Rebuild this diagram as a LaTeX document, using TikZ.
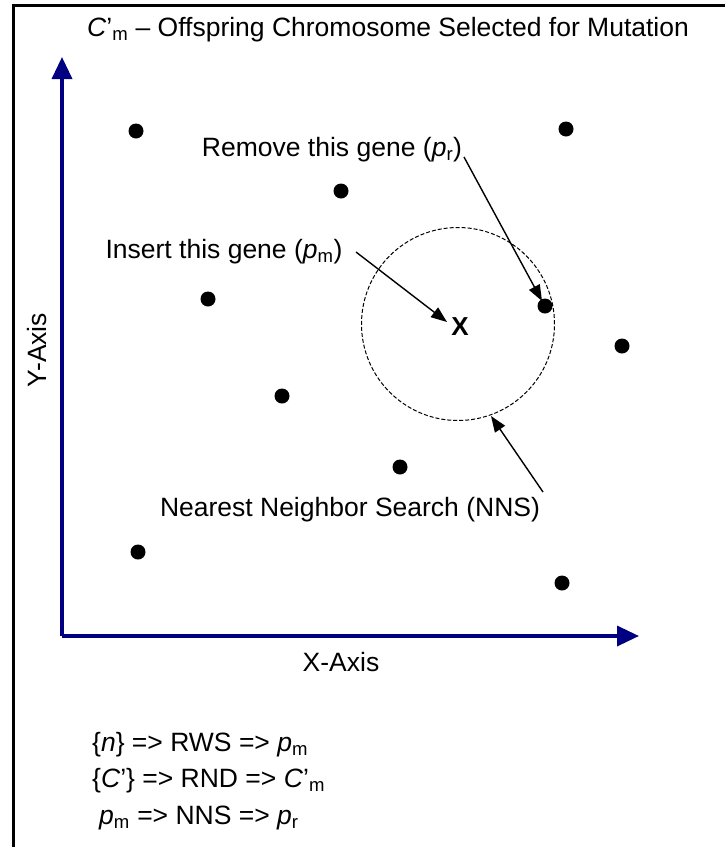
\documentclass[tikz,border=0pt]{standalone}
\usepackage{fontspec}
\setmainfont{Liberation Sans}
\usetikzlibrary{arrows.meta}
\definecolor{axisblue}{RGB}{0,0,128}
\begin{document}
\begin{tikzpicture}[x=1pt,y=-1pt,
  txt/.style={inner sep=0pt,font=\fontsize{26.5}{30}\selectfont},
  dot/.style={circle,fill=black,inner sep=0pt,minimum size=15pt},
  axis/.style={axisblue,line width=3.5pt,-{Triangle[length=22pt,width=20pt]}},
  pointer/.style={black,line width=1.4pt,-{Triangle[length=16pt,width=12pt]}}]
\useasboundingbox (0,0) rectangle (724,847);
% frame
\draw[line width=3pt] (13.5,850) -- (13.5,5) -- (730,5);
% title
\node[txt] (title) at (388,30) {\textit{C}'\textsubscript{m} – Offspring Chromosome Selected for Mutation};
% axes
\coordinate (o) at (62,636);
\coordinate (ytip) at (62,57);
\coordinate (xtip) at (639,636);
\draw[axis] (o) -- (ytip);
\draw[axis] (o) -- (xtip);
\node[txt] (xlab) at (341,662) {X-Axis};
\node[txt,rotate=90] (ylab) at (37,350) {Y-Axis};
% dots
\node[dot] (d1) at (136,131) {};
\node[dot] (d2) at (566,129) {};
\node[dot] (d3) at (341,191) {};
\node[dot] (d4) at (208,299) {};
\node[dot] (d5) at (545,306) {};
\node[dot] (d6) at (622,346) {};
\node[dot] (d7) at (282,396) {};
\node[dot] (d8) at (400,467) {};
\node[dot] (d9) at (138,552) {};
\node[dot] (d10) at (562,583) {};
% NNS circle
\node[draw,circle,line width=1pt,minimum size=193pt,inner sep=0pt,dash pattern=on 4pt off 2pt] (nns) at (458,324) {};
\node[inner sep=1pt,font=\bfseries\fontsize{26}{30}\selectfont] (xm) at (460,327) {X};
% labels
\node[txt] (remove) at (332,150) {Remove this gene (\textit{p}\textsubscript{r})};
\node[txt] (insert) at (224,252) {Insert this gene (\textit{p}\textsubscript{m})};
\node[txt] (nnslab) at (350,510) {Nearest Neighbor Search (NNS)};
\coordinate (rstart) at (464,157);
\coordinate (rtip) at (542,301);
\coordinate (istart) at (356,252);
\coordinate (itip) at (447,322);
\coordinate (nstart) at (543,492);
\coordinate (ntip) at (491,416);
\draw[pointer] (rstart) -- (rtip);
\draw[pointer] (istart) -- (itip);
\draw[pointer] (nstart) -- (ntip);
% formulas
\node[txt,anchor=west] (f1) at (92,745) {\{\textit{n}\} => RWS => \textit{p}\textsubscript{m}};
\node[txt,anchor=west] (f2) at (92,781) {\{\textit{C}'\} => RND => \textit{C}'\textsubscript{m}};
\node[txt,anchor=west] (f3) at (99,818) {\textit{p}\textsubscript{m} => NNS => \textit{p}\textsubscript{r}};
\end{tikzpicture}
\end{document}
